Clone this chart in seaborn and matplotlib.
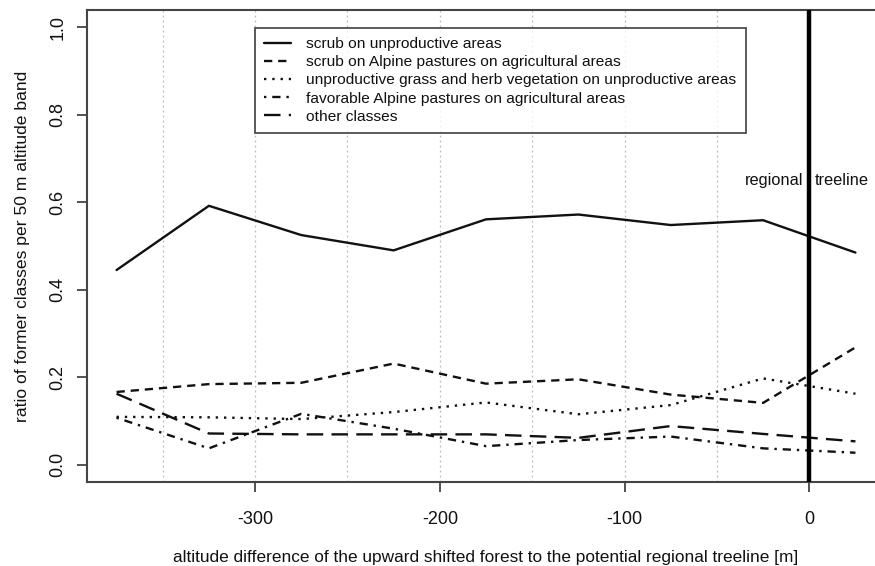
import numpy as np
import pandas as pd
import matplotlib
matplotlib.use("Agg")
import matplotlib.pyplot as plt
import seaborn as sns

altitude = [-375, -325, -275, -225, -175, -125, -75, -25, 25]
scrub_unproductive = [0.445, 0.592, 0.525, 0.490, 0.561, 0.572, 0.548, 0.559, 0.485]
scrub_alpine = [0.166, 0.184, 0.187, 0.231, 0.185, 0.195, 0.160, 0.141, 0.268]
grass_herb = [0.109, 0.108, 0.104, 0.120, 0.142, 0.115, 0.136, 0.197, 0.162]
favorable_alpine = [0.107, 0.037, 0.116, 0.082, 0.042, 0.056, 0.064, 0.037, 0.027]
other_classes = [0.162, 0.071, 0.069, 0.069, 0.069, 0.061, 0.088, 0.070, 0.053]

labels = [
    "scrub on unproductive areas",
    "scrub on Alpine pastures on agricultural areas",
    "unproductive grass and herb vegetation on unproductive areas",
    "favorable Alpine pastures on agricultural areas",
    "other classes",
]
series = [scrub_unproductive, scrub_alpine, grass_herb, favorable_alpine, other_classes]

df = pd.concat(
    [pd.DataFrame({"altitude": altitude, "ratio": vals, "class": lab})
     for lab, vals in zip(labels, series)],
    ignore_index=True,
)

sns.set_theme(style="white")
plt.rcParams["font.family"] = ["Liberation Sans", "DejaVu Sans"]

fig = plt.figure(figsize=(8.75, 5.66), dpi=100)
W, H = 875, 566
ax = fig.add_axes([87 / W, (H - 482) / H, (885 - 87) / W, (482 - 10) / H])

dashes = {
    labels[0]: "",
    labels[1]: (3.5, 2.5),
    labels[2]: (1.0, 2.5),
    labels[3]: (1.0, 2.5, 3.5, 2.5),
    labels[4]: (7.0, 3.5),
}
sns.lineplot(data=df, x="altitude", y="ratio", style="class", style_order=labels,
             dashes=dashes, color="#111111", linewidth=1.7, ax=ax)

ax.set_xlim(-391, 41)
ax.set_ylim(-0.04, 1.04)

for gx in [-350, -300, -250, -200, -150, -100, -50]:
    ax.axvline(gx, color="#bbbbbb", linestyle=(0, (1.5, 2.5)), linewidth=0.9, zorder=0)
ax.axvline(0, color="black", linewidth=3.2, zorder=3)

ax.text(-3, 0.65, "regional", ha="right", va="center", fontsize=11.8, color="#111111")
ax.text(3, 0.65, "treeline", ha="left", va="center", fontsize=11.8, color="#111111")

ax.set_xticks([-300, -200, -100, 0])
ax.set_xticklabels(["-300", "-200", "-100", "0"])
ax.set_yticks([0.0, 0.2, 0.4, 0.6, 0.8, 1.0])
ax.set_yticklabels(["0.0", "0.2", "0.4", "0.6", "0.8", "1.0"], rotation=90, va="center")
ax.tick_params(axis="both", which="major", direction="out", length=7, width=1.3,
               color="#444444", labelsize=13, labelcolor="#111111", pad=8, bottom=True, left=True)
ax.tick_params(axis="x", pad=14)

for sp in ax.spines.values():
    sp.set_color("#444444")
    sp.set_linewidth(1.5)

ax.set_xlabel("altitude difference of the upward shifted forest to the potential regional treeline [m]",
              fontsize=12.4, color="#111111", labelpad=16)
ax.set_ylabel("ratio of former classes per 50 m altitude band", fontsize=12.6, color="#111111",
              labelpad=14)

leg = ax.legend(loc="upper left", bbox_to_anchor=((255 - 87) / 798, (482 - 27.7) / 472),
                borderaxespad=0, frameon=True, fancybox=False, fontsize=11.15,
                handlelength=1.7, handletextpad=1.0, labelspacing=0.27, borderpad=0.6)
leg.get_frame().set_edgecolor("#222222")
leg.get_frame().set_linewidth(1.3)
for t in leg.get_texts():
    t.set_color("#111111")

fig.savefig("out.png", dpi=100)
